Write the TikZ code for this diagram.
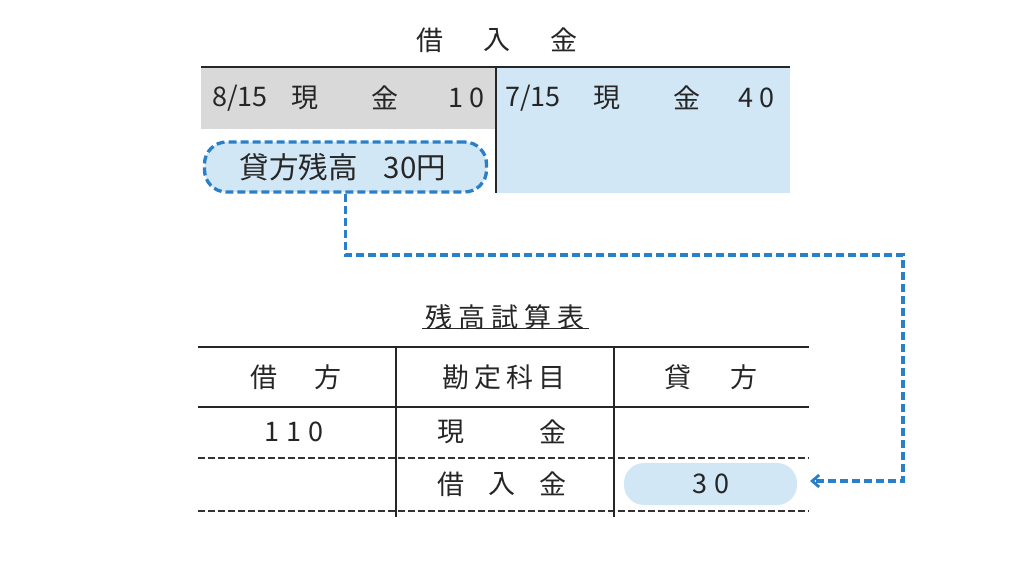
\documentclass[tikz,border=0pt]{standalone}
\usepackage{fontspec}
\setmainfont{Noto Sans CJK JP}
\usetikzlibrary{arrows.meta}
\definecolor{lblue}{HTML}{D2E7F5}
\definecolor{lgray}{HTML}{D9D9D9}
\definecolor{dblue}{HTML}{2A7FC9}
\tikzset{
  txt/.style={inner sep=0pt,font=\fontsize{27}{27}\selectfont,text=black!85},
  bigtxt/.style={inner sep=0pt,font=\fontsize{29.5}{29.5}\selectfont,text=black!85},
  solidline/.style={line width=2.2pt,black!85},
  thindash/.style={line width=1.4pt,black!80,dash pattern=on 7pt off 3pt},
  bluedash/.style={line width=3.3pt,dblue,dash pattern=on 8pt off 4pt},
}
\begin{document}
\begin{tikzpicture}[x=1pt,y=-1pt]
\useasboundingbox (0,0) rectangle (1024,576);
% T account
\node[txt] (t1) at (430,40) {借};
\node[txt] (t2) at (497,40) {入};
\node[txt] (t3) at (564,40) {金};
\fill[lgray] (201,67) rectangle (496,129);
\fill[lblue] (496,67) rectangle (790,193);
\draw[solidline] (201,67) -- (790,67);
\draw[solidline] (496,67) -- (496,193);
\node[txt,anchor=west] (d1) at (212,98) {8/15};
\node[txt] (d2) at (305,98) {現};
\node[txt] (d3) at (385,98) {金};
\node[txt] (d4) at (466,98) {1\hspace{6pt}0};
\node[txt,anchor=west] (c1) at (505,98) {7/15};
\node[txt] (c2) at (607,98) {現};
\node[txt] (c3) at (687,98) {金};
\node[txt] (c4) at (756,98) {4\hspace{6pt}0};
\node[draw=dblue,bluedash,fill=lblue,rounded corners=22pt,minimum width=282pt,minimum height=50pt,inner sep=0pt] (bal) at (345.5,167) {};
\node[bigtxt] (baltext) at (343,167) {貸方残高\hspace{26pt}30円};
% trial balance
\node[txt] (tb) at (505,317) {残\hspace{6pt}高\hspace{6pt}試\hspace{6pt}算\hspace{6pt}表};
\draw[line width=1.8pt,black!85] (422,328.5) -- (589,328.5);
\draw[solidline] (198,347) -- (809,347);
\draw[solidline] (198,407) -- (809,407);
\draw[thindash] (198,458) -- (809,458);
\draw[thindash] (198,511) -- (809,511);
\draw[solidline] (396,347) -- (396,517);
\draw[solidline] (614,347) -- (614,517);
\node[txt] (h1) at (296,377) {借\hspace{38pt}方};
\node[txt] (h2) at (504,377) {勘\hspace{5pt}定\hspace{5pt}科\hspace{5pt}目};
\node[txt] (h3) at (711,377) {貸\hspace{40pt}方};
\node[txt] (r1a) at (294,432) {1\hspace{7pt}1\hspace{7pt}0};
\node[txt] (r1b) at (451,432) {現};
\node[txt] (r1c) at (553,432) {金};
\node[txt] (r2a) at (451,484) {借};
\node[txt] (r2b) at (502,484) {入};
\node[txt] (r2c) at (553,484) {金};
\node[fill=lblue,rounded corners=20pt,minimum width=173pt,minimum height=42pt,inner sep=0pt] (v30) at (710.5,484) {};
\node[txt] (v30t) at (v30.center) {3\hspace{7pt}0};
\coordinate (a1) at (345.5,255);
\coordinate (a2) at (903,255);
\coordinate (a3) at (903,481);
\coordinate (tip) at (810,481);
\draw[bluedash,-{Straight Barb[length=7pt,width=12pt,line width=2.8pt]}] (bal.south -| a1) -- (a1) -- (a2) -- (a3) -- (tip);
\end{tikzpicture}
\end{document}
